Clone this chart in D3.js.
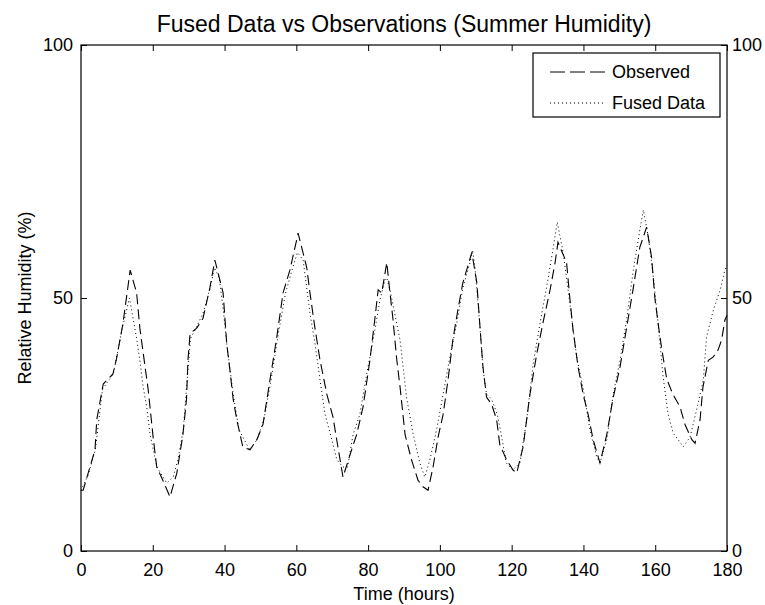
<!DOCTYPE html>
<html>
<head>
<meta charset="utf-8">
<script src="https://cdn.jsdelivr.net/npm/d3@7"></script>
<style>
  body { margin: 0; background: #fff; }
  text { font-family: Arial, "Liberation Sans", sans-serif; fill: #000; }
</style>
</head>
<body>
<script>
/* global d3 */

const width = 765
const height = 605
const margin = { top: 45, right: 38, bottom: 54, left: 81 }

// Observed humidity (hours, %)
const obsTime = [0, 0.6, 3.9, 4.4, 6.2, 8.9, 9.9, 11.7, 13.7, 15.5, 16.4, 18.7, 20.1, 21.1, 22.8, 24.8,
  26.7, 28.4, 29.4, 29.8, 30.4, 32.2, 34.0, 35.9, 37.3, 39.6, 40.6, 41.5, 42.4, 43.4, 45.1, 47.1,
  49.0, 50.7, 52.7, 54.5, 56.3, 58.2, 60.5, 62.9, 63.8, 65.2, 66.6, 68.5, 70.2, 71.6, 73.0, 75.4,
  76.8, 78.6, 80.5, 81.9, 82.8, 83.8, 85.2, 86.1, 86.9, 88.0, 88.9, 90.3, 92.1, 93.9, 95.3, 96.7,
  98.1, 99.5, 100.9, 102.3, 103.6, 105.0, 106.4, 108.9, 110.3, 111.2, 112.0, 113.0, 114.4, 115.8,
  116.7, 118.6, 120.4, 121.4, 123.2, 125.1, 127.0, 128.7, 130.7, 132.1, 132.9, 135.3, 136.2, 137.1,
  138.5, 139.9, 141.3, 142.7, 144.6, 146.5, 148.2, 150.2, 152.0, 153.8, 155.7, 157.6, 159.0, 159.9,
  160.8, 161.8, 163.2, 164.9, 166.9, 168.3, 170.2, 171.1, 172.5, 173.3, 174.8, 176.1, 177.5, 178.5,
  179.4, 180]
const obsValue = [12, 12, 20, 26, 33, 35, 38, 45, 55.5, 51, 44, 32, 22.5, 16.6, 14, 10.7,
  15.4, 23, 30, 37.7, 43, 44, 46, 52, 57.5, 51, 41, 35.7, 30, 26, 20.5, 20,
  22, 25, 34, 42, 51, 55.5, 62.8, 56, 51, 44, 37.7, 31, 26.5, 20.5, 14.6, 20,
  23, 28.5, 37.7, 46, 51.6, 51, 57, 51, 46, 37.7, 32.4, 23, 18, 14, 12.7, 12,
  16.6, 22.5, 27, 34, 41.7, 47.6, 53, 59, 53, 44, 36.4, 30.4, 29, 26,
  21, 18, 16, 15.4, 20.6, 31, 39, 45, 51.6, 57, 61, 57, 50, 43.7,
  36.4, 31, 27, 22, 17.4, 23, 30, 36.4, 44, 51.6, 60, 64, 58, 50,
  45, 40, 34, 31, 28.5, 25, 22, 21.3, 26, 32.4, 37.7, 38.3, 39.7, 41.7,
  45.6, 46.6]

// Fused data (hours, %)
const fusedTime = [0, 2, 4, 6, 9, 11.5, 13.5, 15.5, 16.4, 17.3, 18.3, 19.2, 21.1, 23.9, 25.7,
  27, 28.5, 29.5, 30.5, 32, 34, 36, 37.2, 38.5, 39.6, 40.6, 42.4, 44, 47, 49, 51, 53, 55, 57, 59,
  60.3, 61.9, 63.8, 65.2, 66.6, 68, 69.9, 71.3, 73, 74.3, 75.8, 77.7, 79.6, 81.4, 83.3, 84.7, 85.2,
  86.1, 88.9, 90.7, 92.5, 94.4, 95.8, 97.2, 99.1, 100.9, 102.8, 104.7, 106.4, 108.4, 109.1, 109.8,
  111.2, 112, 113, 114.4, 116, 117.1, 118.5, 120.3, 122.3, 124.2, 126, 127.9, 129.7, 131.6, 132.7,
  134.4, 136.2, 138.1, 140, 141.8, 143.7, 144.6, 146.5, 148.3, 150.2, 152, 153.9, 155.7, 156.7,
  158.1, 159.5, 160.8, 162.2, 163.6, 165, 166.4, 167.8, 169.7, 171.5, 173.4, 174.3, 176.2, 178.1,
  179.4, 180]
const fusedValue = [12, 15, 20, 32, 35, 44, 50, 42, 37.7, 32.5, 28.5, 23.3, 16.7, 13.4, 14.7,
  18, 24, 33, 42, 44, 47, 52, 56, 54, 48, 41, 31, 24, 20, 22, 26, 34, 43, 51, 56,
  59, 57.5, 47, 41, 33.8, 27, 22, 18, 16.6, 16.6, 23, 27, 35, 41.7, 49.6, 53.6, 54,
  51.6, 41.7, 30.4, 23.3, 17.4, 14.6, 18, 24, 31, 38.4, 45, 52, 57, 59.5, 56,
  44, 36, 31, 30, 27, 23, 17.4, 16, 17.4, 26, 37, 45, 52, 60, 65,
  58.8, 49, 38.4, 31.8, 24, 18.6, 17.4, 22, 31, 37.7, 45.6, 55.5, 63.4, 67.4,
  62, 54, 45, 34.4, 27, 23.3, 22, 20.6, 22.5, 27.8, 33.8, 42.3, 47.6, 51.6,
  55.5, 56.5]

const xTicks = [0, 20, 40, 60, 80, 100, 120, 140, 160, 180]
const yTicks = [0, 50, 100]

const seriesNames = ['Observed', 'Fused Data']

const observed = obsTime.map((t, i) => ({ t, v: obsValue[i] }))
const fused = fusedTime.map((t, i) => ({ t, v: fusedValue[i] }))

const svg = d3.select('body').append('svg')
  .attr('width', width)
  .attr('height', height)

const iw = width - margin.left - margin.right
const ih = height - margin.top - margin.bottom

const x = d3.scaleLinear().domain([0, 180]).range([margin.left, margin.left + iw])
const y = d3.scaleLinear().domain([0, 100]).range([margin.top + ih, margin.top])

const line = d3.line()
  .x(d => x(d.t))
  .y(d => y(d.v))

// curves
svg.append('path')
  .datum(fused)
  .attr('d', line)
  .attr('fill', 'none')
  .attr('stroke', '#000')
  .attr('stroke-width', 1)
  .attr('stroke-dasharray', '1,3')

svg.append('path')
  .datum(observed)
  .attr('d', line)
  .attr('fill', 'none')
  .attr('stroke', '#000')
  .attr('stroke-width', 1.1)
  .attr('stroke-dasharray', '10,5')

// axes, ticks pointing inwards
const styleAxis = g => {
  g.select('.domain').remove()
  g.selectAll('.tick line').attr('stroke', '#000')
  g.selectAll('.tick text').style('font-size', '18px').attr('fill', '#000')
}

svg.append('g')
  .attr('transform', `translate(0,${y(0)})`)
  .call(d3.axisBottom(x).tickValues(xTicks).tickSize(-6).tickPadding(12).tickFormat(d3.format('d')))
  .call(styleAxis)

svg.append('g')
  .attr('transform', `translate(0,${y(100)})`)
  .call(d3.axisTop(x).tickValues(xTicks).tickSize(-6).tickFormat(''))
  .call(styleAxis)

svg.append('g')
  .attr('transform', `translate(${x(0)},0)`)
  .call(d3.axisLeft(y).tickValues(yTicks).tickSize(-6).tickPadding(8).tickFormat(d3.format('d')))
  .call(styleAxis)

svg.append('g')
  .attr('transform', `translate(${x(180)},0)`)
  .call(d3.axisRight(y).tickValues(yTicks).tickSize(-6).tickPadding(5).tickFormat(d3.format('d')))
  .call(styleAxis)

// frame
svg.append('rect')
  .attr('x', x(0))
  .attr('y', y(100))
  .attr('width', x(180) - x(0))
  .attr('height', y(0) - y(100))
  .attr('fill', 'none')
  .attr('stroke', '#000')
  .attr('stroke-width', 1.2)

// title and labels
svg.append('text')
  .attr('x', (x(0) + x(180)) / 2)
  .attr('y', 32)
  .attr('text-anchor', 'middle')
  .style('font-size', '23px')
  .text('Fused Data vs Observations (Summer Humidity)')

svg.append('text')
  .attr('x', (x(0) + x(180)) / 2)
  .attr('y', 600)
  .attr('text-anchor', 'middle')
  .style('font-size', '18px')
  .text('Time (hours)')

svg.append('text')
  .attr('transform', `translate(31,${(y(0) + y(100)) / 2}) rotate(-90)`)
  .attr('text-anchor', 'middle')
  .style('font-size', '18px')
  .text('Relative Humidity (%)')

// legend
const legend = svg.append('g').attr('transform', 'translate(533,53)')
legend.append('rect')
  .attr('width', 187)
  .attr('height', 64)
  .attr('fill', '#fff')
  .attr('stroke', '#000')
  .attr('stroke-width', 1.2)

const dashes = ['15,5', '1,3']
seriesNames.forEach((name, i) => {
  const ly = 19 + i * 31
  legend.append('line')
    .attr('x1', 17).attr('x2', 73)
    .attr('y1', ly).attr('y2', ly)
    .attr('stroke', '#000')
    .attr('stroke-dasharray', dashes[i])
  legend.append('text')
    .attr('x', 79)
    .attr('y', ly + 6)
    .style('font-size', '18px')
    .text(name)
})
</script>
</body>
</html>
